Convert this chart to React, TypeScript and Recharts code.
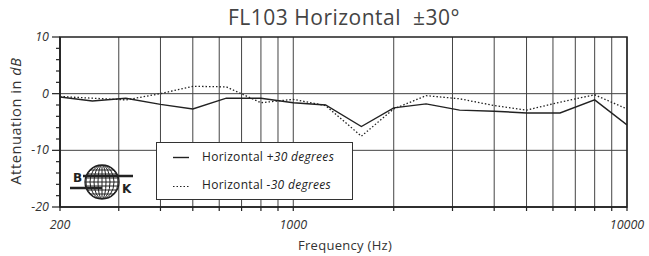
import React from 'react';
import { LineChart, Line, XAxis, YAxis, CartesianGrid, ReferenceArea, Legend } from 'recharts';

const frequencies = [200, 250, 315, 400, 500, 630, 800, 1000, 1250, 1600, 2000, 2500, 3150, 4000, 5000, 6300, 8000, 10000];
const horizontalPlus30 = [-0.6, -1.3, -0.8, -1.9, -2.7, -0.8, -0.8, -1.6, -2.0, -5.8, -2.5, -1.8, -2.9, -3.1, -3.4, -3.4, -1.1, -5.5];
const horizontalMinus30 = [-0.5, -0.8, -1.1, 0, 1.3, 1.2, -1.6, -1.0, -2.1, -7.5, -2.7, -0.35, -0.9, -2.1, -2.9, -1.5, -0.2, -2.7];
const gridFrequencies = [200, 300, 400, 500, 600, 700, 800, 900, 1000, 2000, 3000, 4000, 5000, 6000, 7000, 8000, 9000, 10000];
const xLabelFrequencies = [200, 1000, 10000];
const yTicks = [-20, -18, -16, -14, -12, -10, -8, -6, -4, -2, 0, 2, 4, 6, 8, 10];
const yLabelTicks = [-20, -10, 0, 10];
const seriesNames = ['Horizontal +30 degrees', 'Horizontal -30 degrees'];

const data = frequencies.map((f, i) => ({ f, plus: horizontalPlus30[i], minus: horizontalMinus30[i] }));

const FONT = '"Open Sans", "DejaVu Sans", sans-serif';

const XTick = (props: any) => {
  const { x, y, payload } = props;
  const v = payload.value;
  return (
    <g>
      <line x1={x} x2={x} y1={y} y2={y + 4} stroke="#222" strokeWidth={1.2} />
      {xLabelFrequencies.includes(v) && (
        <text x={x} y={y + 22} textAnchor="middle" fontFamily={FONT} fontStyle="italic" fontSize={12.5} fill="#333">
          {v}
        </text>
      )}
    </g>
  );
};

const YTick = (props: any) => {
  const { x, y, payload } = props;
  const v = payload.value;
  const major = yLabelTicks.includes(v);
  return (
    <g>
      <line x1={x - (major ? 8 : 4)} x2={x} y1={y} y2={y} stroke="#222" strokeWidth={1.2} />
      {major && (
        <text x={x - 11} y={y + 4} textAnchor="end" fontFamily={FONT} fontStyle="italic" fontSize={12.5} fill="#333">
          {v}
        </text>
      )}
    </g>
  );
};

const LegendBox = () => (
  <div style={{ width: 197, height: 58, boxSizing: 'border-box', border: '1.5px solid #333', background: '#fff', fontFamily: FONT, fontSize: 12, color: '#222', position: 'relative', whiteSpace: 'nowrap' }}>
    <svg width={40} height={58} style={{ position: 'absolute', left: 0, top: 0 }}>
      <line x1={16} x2={32} y1={14.5} y2={14.5} stroke="#222" strokeWidth={1.4} />
      <line x1={16} x2={32} y1={43.5} y2={43.5} stroke="#222" strokeWidth={1.2} strokeDasharray="1.5 2" />
    </svg>
    <div style={{ position: 'absolute', left: 45, top: 5, letterSpacing: 0.3 }}>Horizontal <i>+30 degrees</i></div>
    <div style={{ position: 'absolute', left: 45, top: 33, letterSpacing: 0.3 }}>Horizontal <i>-30 degrees</i></div>
  </div>
);

const Logo = () => (
  <svg width={80} height={50} style={{ position: 'absolute', left: 65, top: 158 }}>
    <defs>
      <clipPath id="globe">
        <circle cx={37} cy={24} r={17} />
      </clipPath>
    </defs>
    <circle cx={37} cy={24} r={17} fill="#fff" stroke="#222" strokeWidth={1.3} />
    <g clipPath="url(#globe)" stroke="#222" strokeWidth={1}>
      {[-12, -8, -4, 0, 4, 8, 12].map((d) => (
        <line key={'h' + d} x1={18} x2={56} y1={24 + d} y2={24 + d} />
      ))}
      {[4, 8, 12, 16].map((rx) => (
        <ellipse key={'e' + rx} cx={37} cy={24} rx={rx} ry={17} fill="none" />
      ))}
      <line x1={37} x2={37} y1={6} y2={42} />
    </g>
    <line x1={5} x2={37} y1={30} y2={30} stroke="#222" strokeWidth={2.5} />
    <line x1={18} x2={68} y1={18} y2={18} stroke="#222" strokeWidth={2.5} />
    <text x={8} y={24} fontFamily="DejaVu Sans, sans-serif" fontWeight="bold" fontSize={12} fill="#222">B</text>
    <text x={57} y={35} fontFamily="DejaVu Sans, sans-serif" fontWeight="bold" fontSize={12} fill="#222">K</text>
  </svg>
);

export default function App() {
  return (
    <div style={{ position: 'absolute', left: 0, top: 0, width: 649, height: 256, background: '#fff' }}>
      <div style={{ position: 'absolute', left: 0, top: 3, width: 688, textAlign: 'center', fontFamily: FONT, fontSize: 21, color: '#444', whiteSpace: 'pre', letterSpacing: 0.5 }}>
        FL103 Horizontal  ±30°
      </div>
      <LineChart width={649} height={256} data={data} margin={{ top: 37, right: 22, bottom: 0, left: 0 }}>
        <CartesianGrid horizontal vertical horizontalValues={[-10, 0]} verticalValues={gridFrequencies} stroke="#444" strokeWidth={1} />
        <XAxis
          dataKey="f"
          type="number"
          scale="log"
          domain={[200, 10000]}
          ticks={gridFrequencies}
          interval={0}
          allowDataOverflow
          height={49}
          tickSize={0}
          tickMargin={0}
          tickLine={false}
          axisLine={{ stroke: '#222', strokeWidth: 1.5 }}
          tick={<XTick />}
        />
        <YAxis
          type="number"
          domain={[-20, 10]}
          ticks={yTicks}
          interval={0}
          width={60}
          tickSize={0}
          tickMargin={0}
          tickLine={false}
          axisLine={{ stroke: '#222', strokeWidth: 1.5 }}
          tick={<YTick />}
        />
        <ReferenceArea x1={200} x2={10000} y1={-20} y2={10} fill="none" stroke="#222" strokeWidth={1.5} ifOverflow="visible" />
        <Line type="linear" dataKey="plus" name={seriesNames[0]} stroke="#222" strokeWidth={1.4} dot={false} isAnimationActive={false} />
        <Line type="linear" dataKey="minus" name={seriesNames[1]} stroke="#222" strokeWidth={1.3} strokeDasharray="1.5 2" dot={false} isAnimationActive={false} />
        <Legend
          layout="horizontal"
          verticalAlign="middle"
          align="center"
          content={<LegendBox />}
          wrapperStyle={{ position: 'absolute', left: 156, top: 142, width: 197, height: 58 }}
        />
      </LineChart>
      <Logo />
      <div style={{ position: 'absolute', left: 245, top: 236, width: 200, textAlign: 'center', fontFamily: FONT, fontSize: 13, color: '#333', letterSpacing: 0.3 }}>
        Frequency (Hz)
      </div>
      <div style={{ position: 'absolute', left: 16 - 70, top: 121 - 10, width: 140, textAlign: 'center', fontFamily: FONT, fontSize: 14.5, color: '#333', transform: 'rotate(-90deg)', transformOrigin: '70px 10px', letterSpacing: 0.6, whiteSpace: 'nowrap' }}>
        Attenuation in <i>dB</i>
      </div>
    </div>
  );
}
